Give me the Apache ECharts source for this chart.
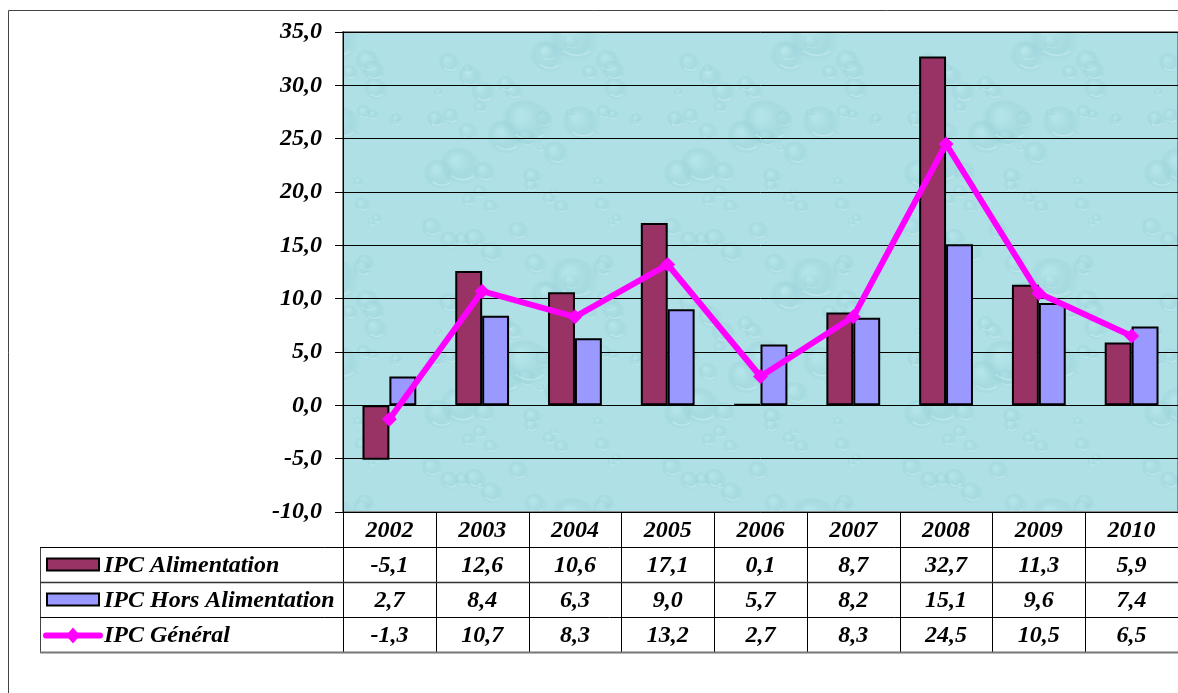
<!DOCTYPE html>
<html>
<head>
<meta charset="utf-8">
<script src="https://cdn.jsdelivr.net/npm/echarts@6/dist/echarts.min.js"></script>
<style>
  html, body { margin: 0; padding: 0; background: #ffffff; }
  #chart { width: 1178px; height: 693px; }
</style>
</head>
<body>
<div id="chart"></div>
<script>
// Indices des prix à la consommation, variation annuelle (%)
const years = ['2002', '2003', '2004', '2005', '2006', '2007', '2008', '2009', '2010'];
const ipcAlimentation = [-5.1, 12.6, 10.6, 17.1, 0.1, 8.7, 32.7, 11.3, 5.9];
const ipcHorsAlimentation = [2.7, 8.4, 6.3, 9.0, 5.7, 8.2, 15.1, 9.6, 7.4];
const ipcGeneral = [-1.3, 10.7, 8.3, 13.2, 2.7, 8.3, 24.5, 10.5, 6.5];
const seriesNames = ['IPC Alimentation', 'IPC Hors Alimentation', 'IPC Général'];
const yMin = -10, yMax = 35, yStep = 5;

const COL_ALIM = '#993366';
const COL_HORS = '#9999ff';
const COL_GEN = '#ff00ff';
const FONT = '"Liberation Serif", "Times New Roman", serif';
const FONT_SIZE = 24;

const fmt = v => v.toFixed(1).replace('.', ',');

// Soft water-drop texture tile for the plot background
function makeDropTile() {
  const size = 240;
  const cv = document.createElement('canvas');
  cv.width = size; cv.height = size;
  const ctx = cv.getContext('2d');
  ctx.fillStyle = '#aee0e5';
  ctx.fillRect(0, 0, size, size);
  let seed = 11;
  const next = () => { seed = (seed * 16807) % 2147483647; return seed / 2147483647; };
  const drop = (x, y, r) => {
    for (let dx = -size; dx <= size; dx += size) {
      for (let dy = -size; dy <= size; dy += size) {
        const cx = x + dx, cy = y + dy;
        if (cx + r < 0 || cx - r > size || cy + r < 0 || cy - r > size) continue;
        const g = ctx.createRadialGradient(cx - r * 0.25, cy - r * 0.3, r * 0.1, cx, cy, r);
        g.addColorStop(0, 'rgba(190,236,240,0.35)');
        g.addColorStop(0.6, 'rgba(145,205,213,0.30)');
        g.addColorStop(1, 'rgba(150,208,216,0.0)');
        ctx.fillStyle = g;
        ctx.beginPath();
        ctx.ellipse(cx, cy, r, r * 0.8, 0.4, 0, Math.PI * 2);
        ctx.fill();
        ctx.strokeStyle = 'rgba(225,248,250,0.35)';
        ctx.lineWidth = 1.5;
        ctx.beginPath();
        ctx.ellipse(cx, cy, r * 0.75, r * 0.6, 0.4, 0.3, 1.9);
        ctx.stroke();
      }
    }
  };
  for (let i = 0; i < 50; i++) {
    drop(next() * size, next() * size, 4 + next() * 10);
  }
  for (let i = 0; i < 7; i++) {
    drop(next() * size, next() * size, 14 + next() * 14);
  }
  return cv;
}

const chart = echarts.init(document.getElementById('chart'), null, { renderer: 'canvas' });

const baseOption = {
  animation: false,
  backgroundColor: '#ffffff',
  grid: {
    left: 343, top: 32, right: -8, bottom: 181,
    show: true,
    borderColor: '#8a8a8a', borderWidth: 2,
    backgroundColor: { image: makeDropTile(), repeat: 'repeat' }
  },
  xAxis: {
    type: 'category',
    data: years,
    axisLine: { lineStyle: { color: '#000', width: 1 } },
    axisTick: { show: false },
    axisLabel: { show: false }
  },
  yAxis: {
    type: 'value',
    min: yMin, max: yMax, interval: yStep,
    axisLine: { show: true, lineStyle: { color: '#000', width: 1 } },
    axisTick: { show: true, length: 8, lineStyle: { color: '#000' } },
    axisLabel: {
      formatter: v => fmt(v),
      margin: 21,
      fontFamily: FONT, fontSize: FONT_SIZE, fontWeight: 'bold', fontStyle: 'italic', color: '#000'
    },
    splitLine: { lineStyle: { color: '#000', width: 1 } }
  },
  series: [
    {
      name: seriesNames[0], type: 'bar', data: ipcAlimentation,
      barGap: '0%', barCategoryGap: '42%',
      itemStyle: { color: COL_ALIM, borderColor: '#000', borderWidth: 2 }
    },
    {
      name: seriesNames[1], type: 'bar', data: ipcHorsAlimentation,
      itemStyle: { color: COL_HORS, borderColor: '#000', borderWidth: 2 }
    },
    {
      name: seriesNames[2], type: 'line', data: ipcGeneral, z: 5,
      symbol: 'diamond', symbolSize: 15,
      lineStyle: { color: COL_GEN, width: 6 },
      itemStyle: { color: COL_GEN }
    }
  ]
};

chart.setOption(baseOption);

// Data table below the plot, aligned on the category bands
function buildTable() {
  const c0 = chart.convertToPixel({ xAxisIndex: 0 }, 0);
  const c1 = chart.convertToPixel({ xAxisIndex: 0 }, 1);
  const bw = c1 - c0;
  const left0 = c0 - bw / 2;
  const tableLeft = 40;
  const rightEnd = 1200;
  const rowY = [512, 547, 582, 617, 652];
  const g = [];
  const label = (x, y, t, align) => ({
    type: 'text', x: x, y: y, silent: true,
    style: {
      text: t, fill: '#000', align: align || 'center', verticalAlign: 'middle',
      font: 'italic bold ' + FONT_SIZE + 'px ' + FONT
    }
  });
  const line = (x1, y1, x2, y2, color, w) => ({
    type: 'line', silent: true,
    shape: { x1: x1, y1: y1, x2: x2, y2: y2 },
    style: { stroke: color, lineWidth: w }
  });

  // outer frame
  g.push({ type: 'rect', silent: true, shape: { x: 8.5, y: 10.5, width: 1200, height: 700 },
    style: { fill: null, stroke: '#444', lineWidth: 1 } });

  // vertical separators
  for (let i = 0; i <= years.length; i++) {
    const x = Math.round(left0 + i * bw) + 0.5;
    g.push(line(x, rowY[0], x, rowY[4], '#000', 1));
  }
  g.push(line(tableLeft + 0.5, rowY[1], tableLeft + 0.5, rowY[4], '#444', 1));
  // horizontal rules
  g.push(line(tableLeft, rowY[1] + 0.5, rightEnd, rowY[1] + 0.5, '#000', 1));
  g.push(line(tableLeft, rowY[2] + 0.5, rightEnd, rowY[2] + 0.5, '#333', 1.5));
  g.push(line(tableLeft, rowY[3] + 0.5, rightEnd, rowY[3] + 0.5, '#000', 1));
  g.push(line(tableLeft, rowY[4] + 0.5, rightEnd, rowY[4] + 0.5, '#777', 2));

  // year header and values
  const rows = [ipcAlimentation, ipcHorsAlimentation, ipcGeneral];
  years.forEach((y, i) => {
    const cx = left0 + (i + 0.5) * bw;
    g.push(label(cx, (rowY[0] + rowY[1]) / 2 + 1, y));
    rows.forEach((r, k) => {
      g.push(label(cx, (rowY[k + 1] + rowY[k + 2]) / 2 + 1, fmt(r[i])));
    });
  });

  // legend keys and series names
  const keyX = 47, keyW = 52;
  const mid = k => (rowY[k + 1] + rowY[k + 2]) / 2;
  g.push({ type: 'rect', silent: true, shape: { x: keyX, y: mid(0) - 6, width: keyW, height: 12 },
    style: { fill: COL_ALIM, stroke: '#000', lineWidth: 2 } });
  g.push({ type: 'rect', silent: true, shape: { x: keyX, y: mid(1) - 6, width: keyW, height: 12 },
    style: { fill: COL_HORS, stroke: '#000', lineWidth: 2 } });
  g.push({ type: 'line', silent: true,
    shape: { x1: keyX - 1, y1: mid(2) + 1, x2: keyX + keyW + 1, y2: mid(2) + 1 },
    style: { stroke: COL_GEN, lineWidth: 6, lineCap: 'round' } });
  g.push({ type: 'polygon', silent: true,
    shape: { points: [[73, mid(2) - 7], [80, mid(2) + 1], [73, mid(2) + 9], [66, mid(2) + 1]] },
    style: { fill: COL_GEN } });
  seriesNames.forEach((n, k) => {
    g.push(label(104, mid(k) + 1, n, 'left'));
  });

  chart.setOption({ graphic: { elements: g } });
}

buildTable();
</script>
</body>
</html>
